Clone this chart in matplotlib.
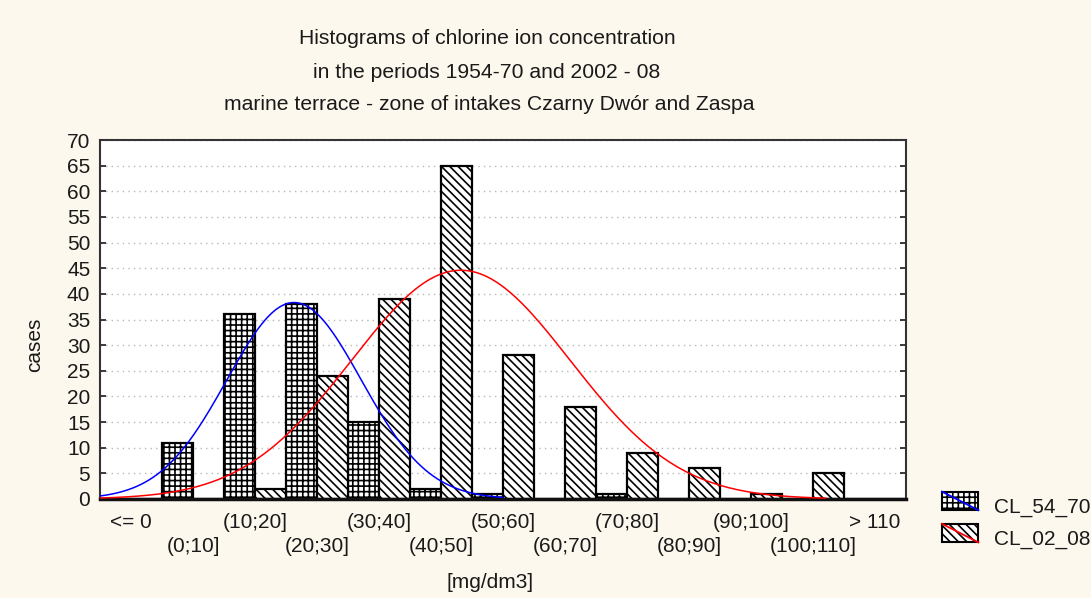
import numpy as np
import matplotlib
matplotlib.use("Agg")
import matplotlib.pyplot as plt
from matplotlib.patches import Rectangle
from matplotlib.lines import Line2D

plt.rcParams['font.family'] = ['Liberation Sans', 'DejaVu Sans']
plt.rcParams['hatch.linewidth'] = 1.2

# ---- data ----
categories = ['<= 0', '(0;10]', '(10;20]', '(20;30]', '(30;40]', '(40;50]',
              '(50;60]', '(60;70]', '(70;80]', '(80;90]', '(90;100]',
              '(100;110]', '> 110']
cl_54_70 = [0, 11, 36, 38, 15, 2, 1, 0, 1, 0, 0, 0, 0]
cl_02_08 = [0, 0, 2, 24, 39, 65, 28, 18, 9, 6, 1, 5, 0]
series_names = ['CL_54_70', 'CL_02_08']
# fitted normal curves (mean, sd in mg/dm3)
fit_54_70 = dict(mean=21.3, sd=10.83, lo=-10, hi=55)
fit_02_08 = dict(mean=48.2, sd=17.62, lo=-10, hi=107)
bin_width = 10.0
y_ticks = list(range(0, 75, 5))

BG = '#fdf8ee'
W, H = 1091, 598
fig = plt.figure(figsize=(W / 100, H / 100), dpi=100, facecolor=BG)
ax = fig.add_axes([100 / W, 1 - 499 / H, 806 / W, 359 / H])
ax.set_facecolor('white')

x = np.arange(len(categories))
bw = 0.5
ax.bar(x - bw / 2, cl_54_70, width=bw, facecolor='white', edgecolor='black',
       hatch='+++', linewidth=1.6, zorder=2)
ax.bar(x + bw / 2, cl_02_08, width=bw, facecolor='white', edgecolor='black',
       hatch='\\' * 4, linewidth=1.6, zorder=2)


def normal_curve(values, fit, color):
    n = sum(values)
    c = np.linspace(fit['lo'], fit['hi'], 400)
    y = n * bin_width / (fit['sd'] * np.sqrt(2 * np.pi)) * \
        np.exp(-0.5 * ((c - fit['mean']) / fit['sd']) ** 2)
    pos = 0.5 + c / bin_width
    ax.plot(pos, y, color=color, lw=1.1, zorder=3)


normal_curve(cl_54_70, fit_54_70, '#0000ff')
normal_curve(cl_02_08, fit_02_08, '#ff0000')

tc = '#1a1a1a'
ax.set_xlim(-0.5, len(categories) - 0.5)
ax.set_ylim(0, 70)
ax.set_yticks(y_ticks)
ax.set_yticklabels([str(v) for v in y_ticks])
ax.yaxis.grid(True, color='#b8b8b8', linestyle=(0, (1, 3)), linewidth=1.0)
ax.set_axisbelow(True)
ax.tick_params(axis='y', direction='in', length=4, width=1.2, left=True,
               right=True, labelsize=15, pad=7, colors=tc)
# alternate rows of category labels: even on major ticks, odd on minor ticks
ax.set_xticks(x[::2])
ax.set_xticklabels(categories[::2])
ax.set_xticks(x[1::2], minor=True)
ax.set_xticklabels(categories[1::2], minor=True)
ax.tick_params(axis='x', which='major', length=0, labelsize=15, pad=10, colors=tc)
ax.tick_params(axis='x', which='minor', length=0, labelsize=15, pad=27, colors=tc)
for s in ['left', 'right', 'top']:
    ax.spines[s].set_linewidth(1.5)
    ax.spines[s].set_color('#333333')
ax.spines['bottom'].set_linewidth(2.5)
ax.spines['bottom'].set_color('#111111')

fig.text(487 / W, 1 - 38 / H, 'Histograms of chlorine ion concentration',
         ha='center', va='center', fontsize=15.2, color=tc)
fig.text(487 / W, 1 - 72 / H, 'in the periods 1954-70 and 2002 - 08',
         ha='center', va='center', fontsize=15.2, color=tc)
fig.text(489 / W, 1 - 104 / H, 'marine terrace - zone of intakes Czarny Dwór and Zaspa',
         ha='center', va='center', fontsize=15.2, color=tc)
fig.text(35 / W, 1 - 345 / H, 'cases', rotation=90, ha='center', va='center',
         fontsize=15, color=tc)
fig.text(490 / W, 1 - 583 / H, '[mg/dm3]', ha='center', va='center',
         fontsize=15, color=tc)


class Key:
    pass


class HatchLineHandler:
    def __init__(self, hatch, color):
        self.hatch = hatch
        self.color = color

    def legend_artist(self, legend, orig_handle, fontsize, handlebox):
        x0, y0 = handlebox.xdescent, handlebox.ydescent
        w, h = handlebox.width, handlebox.height
        tr = handlebox.get_transform()
        rect = Rectangle((x0, y0), w, h, facecolor='white', edgecolor='black',
                         hatch=self.hatch, lw=1.5, transform=tr)
        handlebox.add_artist(rect)
        ln = Line2D([x0, x0 + w], [y0 + h, y0], color=self.color, lw=1.3,
                    transform=tr)
        handlebox.add_artist(ln)
        return rect


k1, k2 = Key(), Key()
fig.legend([k1, k2], series_names,
           handler_map={k1: HatchLineHandler('+++', '#0000ff'),
                        k2: HatchLineHandler('\\' * 4, '#ff0000')},
           loc='upper left', bbox_to_anchor=(942 / W, 1 - 496 / H),
           frameon=False, fontsize=15, borderpad=0, borderaxespad=0,
           handlelength=1.75, handleheight=1.0, handletextpad=0.75,
           labelspacing=0.55, labelcolor=tc)

fig.savefig('out.png', dpi=100, facecolor=BG)
